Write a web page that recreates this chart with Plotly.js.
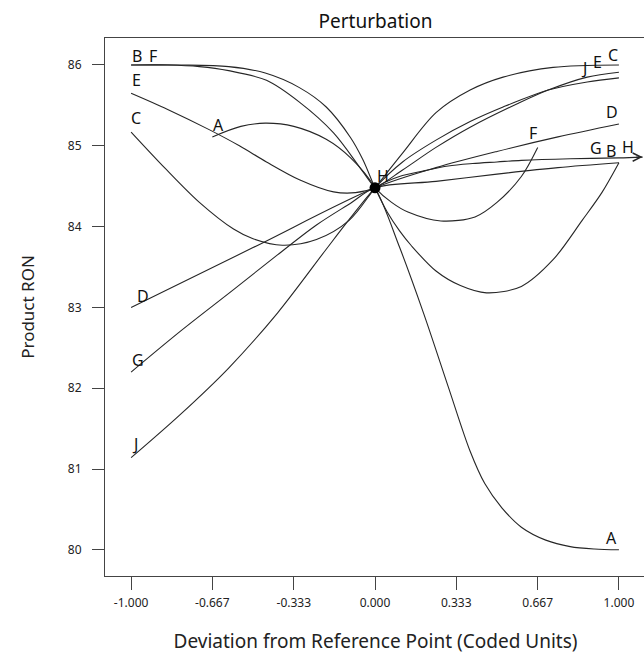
<!DOCTYPE html>
<html>
<head>
<meta charset="utf-8">
<script src="https://cdn.plot.ly/plotly-3.0.1.min.js"></script>
<style>
html,body{margin:0;padding:0;background:#fff;overflow:hidden;}
#chart{width:650px;height:659px;}
</style>
</head>
<body>
<div id="chart"></div>
<script>
// ---- data ----
const xTickVals = [-1, -0.667, -0.333, 0, 0.333, 0.667, 1];
const xTickText = ["-1.000", "-0.667", "-0.333", "0.000", "0.333", "0.667", "1.000"];
const yTickVals = [80, 81, 82, 83, 84, 85, 86];

const A_x = [-0.667, -0.55, -0.45, -0.333, -0.2, -0.1, 0, 0.1, 0.2, 0.3, 0.39, 0.45, 0.52, 0.6, 0.7, 0.8, 0.9, 1.0];
const A_y = [85.11, 85.24, 85.28, 85.24, 85.08, 84.85, 84.48, 83.75, 82.92, 82.02, 81.22, 80.82, 80.52, 80.28, 80.12, 80.04, 80.01, 80.0];

const B_x = [-1, -0.8, -0.6, -0.45, -0.31, -0.2, -0.1, -0.05, 0, 0.05, 0.1, 0.15, 0.25, 0.35, 0.457, 0.6, 0.73, 0.85, 0.93, 1.0];
const B_y = [86.0, 86.0, 85.98, 85.9, 85.72, 85.48, 85.1, 84.83, 84.48, 84.18, 83.95, 83.76, 83.45, 83.27, 83.18, 83.26, 83.59, 84.08, 84.42, 84.79];

const C_x = [-1, -0.86, -0.72, -0.58, -0.5, -0.38, -0.24, -0.105, 0, 0.113, 0.25, 0.39, 0.525, 0.73, 1.0];
const C_y = [85.17, 84.72, 84.3, 83.97, 83.85, 83.77, 83.84, 84.08, 84.48, 84.91, 85.41, 85.69, 85.85, 85.97, 86.0];

const D_x = [-1, -0.5, 0, 0.25, 0.5, 0.75, 1.0];
const D_y = [83.0, 83.74, 84.48, 84.73, 84.93, 85.11, 85.27];

const E_x = [-1, -0.85, -0.68, -0.556, -0.445, -0.31, -0.17, -0.08, 0, 0.113, 0.25, 0.39, 0.59, 0.71, 0.87, 1.0];
const E_y = [85.65, 85.45, 85.2, 85.0, 84.8, 84.58, 84.43, 84.42, 84.48, 84.7, 84.98, 85.23, 85.53, 85.69, 85.85, 85.91];

const F_x = [-1, -0.85, -0.72, -0.6, -0.445, -0.31, -0.17, -0.064, 0, 0.068, 0.135, 0.27, 0.41, 0.5, 0.6, 0.667];
const F_y = [86.0, 86.0, 85.98, 85.93, 85.81, 85.54, 85.16, 84.74, 84.48, 84.3, 84.18, 84.07, 84.12, 84.3, 84.62, 84.98];

const G_x = [-1, -0.8, -0.58, -0.4, -0.24, -0.1, 0, 0.25, 0.5, 0.75, 1.0];
const G_y = [82.2, 82.7, 83.22, 83.65, 84.02, 84.29, 84.48, 84.56, 84.65, 84.73, 84.79];

const H_x = [0, 0.05, 0.1, 0.2, 0.3, 0.4, 0.5, 0.6, 0.8, 1.0, 1.097];
const H_y = [84.48, 84.56, 84.62, 84.69, 84.75, 84.78, 84.8, 84.82, 84.84, 84.85, 84.86];

const J_x = [-1, -0.8, -0.6, -0.4, -0.2, -0.1, 0, 0.113, 0.25, 0.39, 0.525, 0.71, 0.87, 1.0];
const J_y = [81.14, 81.67, 82.25, 82.93, 83.72, 84.11, 84.48, 84.8, 85.07, 85.3, 85.48, 85.69, 85.79, 85.84];

const seriesNames = ["A", "B", "C", "D", "E", "F", "G", "H", "J"];
const seriesX = [A_x, B_x, C_x, D_x, E_x, F_x, G_x, H_x, J_x];
const seriesY = [A_y, B_y, C_y, D_y, E_y, F_y, G_y, H_y, J_y];

// ---- styling ----
const FONT = "Noto Sans, Open Sans, sans-serif";
const LINE = "#262626";

const traces = seriesNames.map((n, i) => ({
  type: "scatter", mode: "lines", name: n,
  x: seriesX[i], y: seriesY[i],
  line: {color: LINE, width: 1.1, shape: "spline", smoothing: 0.9},
  hoverinfo: "skip", showlegend: false
}));
// reference point marker
traces.push({
  type: "scatter", mode: "markers", x: [H_x[0]], y: [H_y[0]],
  marker: {color: "#000", size: 11}, showlegend: false, hoverinfo: "skip"
});

// end labels: [series index, which end (0 start / 1 end), dx px, dy px]
const labelSpec = [
  [1, 0, 6, 9], [5, 0, 22, 9], [4, 0, 5, 13], [2, 0, 5, 14], [0, 0, 6, 12],
  [3, 0, 12, 11], [6, 0, 7, 12], [8, 0, 4, 14], [7, 0, 8, 12],
  [8, 1, -35, 10], [4, 1, -21, 10], [2, 1, -6, 10], [3, 1, -7, 12],
  [5, 1, -5, 14], [6, 1, -23, 15], [1, 1, -8, 12], [7, 1, -15, 10], [0, 1, -7, 12]
];
const annotations = labelSpec.map(([i, e, dx, dy]) => {
  const xs = seriesX[i], ys = seriesY[i];
  const k = e === 0 ? 0 : xs.length - 1;
  return {
    x: xs[k], y: ys[k], xref: "x", yref: "y", text: seriesNames[i],
    showarrow: false, xshift: dx, yshift: dy,
    font: {family: FONT, size: 16, color: "#111"}
  };
});
// arrow at the end of H
const hk = H_x.length - 1;
annotations.push({
  x: H_x[hk], y: H_y[hk], xref: "x", yref: "y",
  ax: -8, ay: 0, axref: "pixel", ayref: "pixel",
  showarrow: true, arrowhead: 5, arrowsize: 1.6, arrowwidth: 1, arrowcolor: LINE, text: ""
});

const layout = {
  width: 650, height: 659,
  margin: {l: 105, r: 4, t: 38, b: 83},
  paper_bgcolor: "#fff", plot_bgcolor: "#fff",
  font: {family: FONT, color: "#222"},
  title: {text: "Perturbation", font: {family: FONT, size: 19, color: "#111"},
          x: 0.5, xref: "paper", y: 1 - 21 / 659, yref: "container", yanchor: "middle"},
  xaxis: {
    range: [-1.107, 1.111], tickvals: xTickVals, ticktext: xTickText,
    showgrid: false, zeroline: false, showline: true, linecolor: "#444", linewidth: 1, mirror: true,
    ticks: "outside", ticklen: 13, tickcolor: "#444", tickwidth: 1, ticklabelstandoff: 3,
    tickfont: {family: FONT, size: 12, color: "#222"},
    title: {text: "Deviation from Reference Point (Coded Units)", font: {family: FONT, size: 19, color: "#222"}, standoff: 24}
  },
  yaxis: {
    range: [79.676, 86.334], tickvals: yTickVals,
    showgrid: false, zeroline: false, showline: true, linecolor: "#444", linewidth: 1, mirror: true,
    ticks: "outside", ticklen: 12, tickcolor: "#444", tickwidth: 1, ticklabelstandoff: 8,
    tickfont: {family: FONT, size: 12, color: "#222"},
    title: {text: "Product RON", font: {family: FONT, size: 17, color: "#222"}, standoff: 28}
  },
  annotations: annotations
};

Plotly.newPlot("chart", traces, layout, {staticPlot: true, displayModeBar: false});
</script>
</body>
</html>
